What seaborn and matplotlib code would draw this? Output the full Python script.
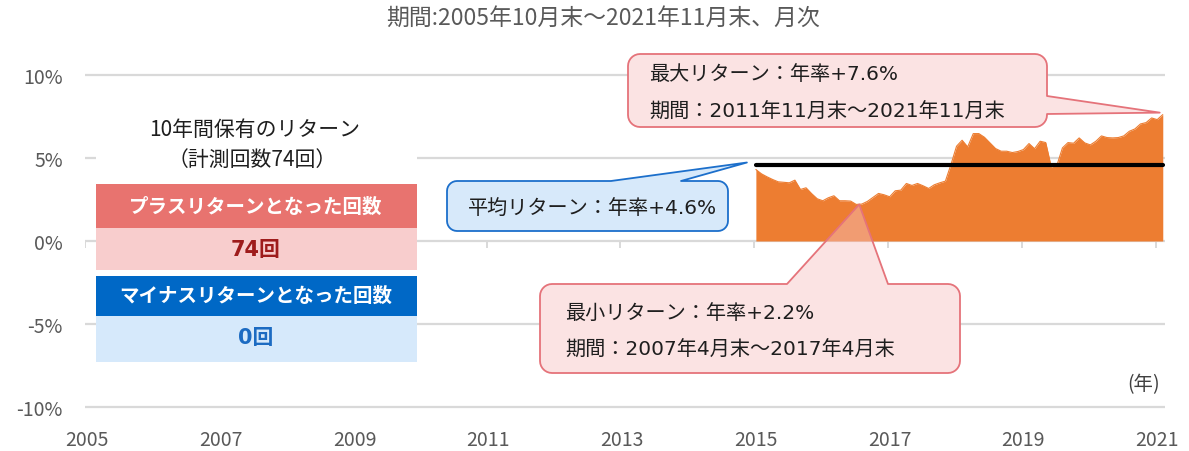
import numpy as np
import pandas as pd
import matplotlib
matplotlib.use("Agg")
import matplotlib.pyplot as plt
from matplotlib.patches import Polygon, Rectangle
import seaborn as sns

# ---------------- data ----------------
title = "期間:2005年10月末～2021年11月末、月次"
axis_start = "2005-10"          # first month of the x axis
start_month = "2015-10"         # first 10-year holding period end month
ret_10y = [4.30, 4.04, 3.86, 3.70, 3.56, 3.53, 3.50, 3.66, 3.10, 3.20,
           2.85, 2.54, 2.42, 2.60, 2.72, 2.42, 2.42, 2.40, 2.20, 2.22,
           2.38, 2.62, 2.86, 2.78, 2.66, 3.02, 3.06, 3.46, 3.34, 3.46,
           3.32, 3.16, 3.38, 3.50, 3.60, 4.60, 5.70, 6.06, 5.66, 6.46,
           6.46, 6.24, 5.90, 5.56, 5.40, 5.40, 5.32, 5.38, 5.50, 5.86,
           5.55, 6.00, 5.92, 4.45, 4.55, 5.60, 5.92, 5.88, 6.20, 5.90,
           5.78, 6.00, 6.32, 6.22, 6.20, 6.22, 6.32, 6.60, 6.74, 7.04,
           7.12, 7.40, 7.30, 7.60]
avg_return = 4.6
year_labels = ["2005", "2007", "2009", "2011", "2013", "2015", "2017", "2019", "2021"]
y_ticks = [-10, -5, 0, 5, 10]
y_tick_labels = ["-10%", "-5%", "0%", "5%", "10%"]
table_title = ["10年間保有のリターン", "（計測回数74回）"]
plus_header = "プラスリターンとなった回数"
plus_count = "74回"
minus_header = "マイナスリターンとなった回数"
minus_count = "0回"
max_text = ["最大リターン：年率+7.6%", "期間：2011年11月末～2021年11月末"]
min_text = ["最小リターン：年率+2.2%", "期間：2007年4月末～2017年4月末"]
avg_text = "平均リターン：年率+4.6%"
x_unit = "(年)"

# ---------------- style ----------------
sns.set_theme(style="white")
plt.rcParams["font.family"] = ["Noto Sans CJK JP", "DejaVu Sans"]
WIDE = ["DejaVu Sans", "Noto Sans CJK JP"]   # wide latin digits, CJK fallback

ORANGE = "#ED7D31"
GRID = "#D9D9D9"
TICK = "#595959"
TXT = "#1E1E1E"

W, H = 1189, 452
fig = plt.figure(figsize=(W / 100, H / 100), dpi=100)
fig.patch.set_facecolor("white")


def fx(x):
    return x / W


def fy(y):
    return 1 - y / H


ax = fig.add_axes([fx(85), fy(411.6), fx(1165) - fx(85), fy(72.4) - fy(411.6)])
ax.set_facecolor("white")

a0 = pd.Timestamp(axis_start)
dates = pd.date_range(start_month, periods=len(ret_10y), freq="MS")
xm = (dates.year - a0.year) * 12 + (dates.month - a0.month)
df = pd.DataFrame({"x": np.asarray(xm, dtype=float), "ret": ret_10y})

ax.set_xlim(-0.36, 193.4)
ax.set_ylim(-10.2, 10.2)

for yv in y_ticks:
    ax.axhline(yv, color=GRID, lw=1.6, zorder=0)
xt = np.arange(0, 24 * len(year_labels), 24)
ax.vlines(xt - 0.3, -0.4, 0, color=GRID, lw=1.4, zorder=0)

ax.fill_between(df["x"], 0, df["ret"], color=ORANGE, lw=0, zorder=2)
sns.lineplot(data=df, x="x", y="ret", color=ORANGE, lw=0.8, ax=ax, zorder=2)
ax.plot([df["x"].iloc[0], df["x"].iloc[-1]], [avg_return, avg_return],
        color="black", lw=3, solid_capstyle="round", zorder=3)

ax.set_xticks(xt)
ax.set_xticklabels(year_labels)
ax.set_yticks(y_ticks)
ax.set_yticklabels(y_tick_labels)
ax.tick_params(axis="x", length=0, pad=13, labelsize=14, labelcolor=TICK)
ax.tick_params(axis="y", length=0, pad=16, labelsize=14, labelcolor=TICK)
ax.set_xlabel("")
ax.set_ylabel("")
for s in ax.spines.values():
    s.set_visible(False)

# ---------------- title / unit ----------------
fig.text(fx(603), fy(18), title, ha="center", va="center", fontsize=16.5, color=TICK)
fig.text(fx(1160), fy(385), x_unit, ha="right", va="center", fontsize=14, color="#404040")

# ---------------- left summary table ----------------
def frect(x0, y0, x1, y1, color, z=1.5):
    fig.add_artist(Rectangle((fx(x0), fy(y1)), fx(x1) - fx(x0), fy(y0) - fy(y1),
                             transform=fig.transFigure, fc=color, ec="none", zorder=z))


frect(96, 100, 417, 365, "white", 1.2)
frect(96, 185, 417, 229, "#E8736F")
frect(96, 229, 417, 271, "#F8CDCD")
frect(96, 277, 417, 317, "#0068C6")
frect(96, 317, 417, 363, "#D6E9FB")
fig.text(fx(255), fy(130), table_title[0], ha="center", va="center", fontsize=15, color=TXT)
fig.text(fx(252), fy(160), table_title[1], ha="center", va="center", fontsize=15, color=TXT)
fig.text(fx(256), fy(207), plus_header, ha="center", va="center", fontsize=14,
         color="white", fontweight="bold")
fig.text(fx(256), fy(250), plus_count, ha="center", va="center", fontsize=15,
         color="#9E1B1B", fontweight="bold", family=WIDE)
fig.text(fx(256), fy(296), minus_header, ha="center", va="center", fontsize=14,
         color="white", fontweight="bold")
fig.text(fx(256), fy(338), minus_count, ha="center", va="center", fontsize=15,
         color="#1C6BC2", fontweight="bold", family=WIDE)


# ---------------- callouts ----------------
def arc(cx, cy, r, t0, t1, n=8):
    t = np.radians(np.linspace(t0, t1, n))
    return list(zip(cx + r * np.cos(t), cy + r * np.sin(t)))


def callout_pts(L, T, R, B, r, side=None, a=None, b=None, tip=None):
    pts = []
    pts += arc(L + r, T + r, r, 180, 270)
    if side == "top":
        pts += [(a, T), tip, (b, T)]
    pts += arc(R - r, T + r, r, 270, 360)
    if side == "right":
        pts += [(R, a), tip, (R, b)]
    pts += arc(R - r, B - r, r, 0, 90)
    pts += arc(L + r, B - r, r, 90, 180)
    return [(fx(x), fy(y)) for x, y in pts]


def to_img(x, y):
    d = ax.transData.transform((x, y))
    return d[0], H - d[1]


def draw_callout(L, T, R, B, r, side, a, b, tip, fc, ec):
    fig.add_artist(Polygon(callout_pts(L, T, R, B, r), closed=True,
                           transform=fig.transFigure, fc="white", ec="none", zorder=1.6))
    fig.add_artist(Polygon(callout_pts(L, T, R, B, r, side, a, b, tip), closed=True,
                           transform=fig.transFigure, fc=fc, ec=ec, lw=1.3,
                           joinstyle="round", zorder=1.7))


def ctext(x, y, s):
    fig.text(fx(x), fy(y), s, ha="left", va="center", fontsize=14.5, color=TXT, family=WIDE)


PINK_FC = (0.973, 0.765, 0.765, 0.45)
PINK_EC = "#E5737A"

imax = int(np.argmax(df["ret"]))
imin = int(np.argmin(df["ret"]))
tx, ty = to_img(df["x"].iloc[imax], df["ret"].iloc[imax])
draw_callout(628, 55, 1047, 128, 12, "right", 97, 115, (tx - 3, ty - 2), PINK_FC, PINK_EC)
ctext(649, 75, max_text[0])
ctext(649, 112, max_text[1])

tx, ty = to_img(df["x"].iloc[imin], df["ret"].iloc[imin])
draw_callout(540, 285, 960, 374, 12, "top", 787, 888, (tx + 3, ty), PINK_FC, PINK_EC)
ctext(565, 313, min_text[0])
ctext(565, 350, min_text[1])

tx, ty = to_img(df["x"].iloc[0], avg_return)
draw_callout(447, 182, 728, 232, 10, "top", 611, 681, (tx - 9, ty - 2), "#D7E9FA", "#1C6FCB")
ctext(468, 209, avg_text)

fig.savefig("out.png", dpi=100, facecolor="white")
